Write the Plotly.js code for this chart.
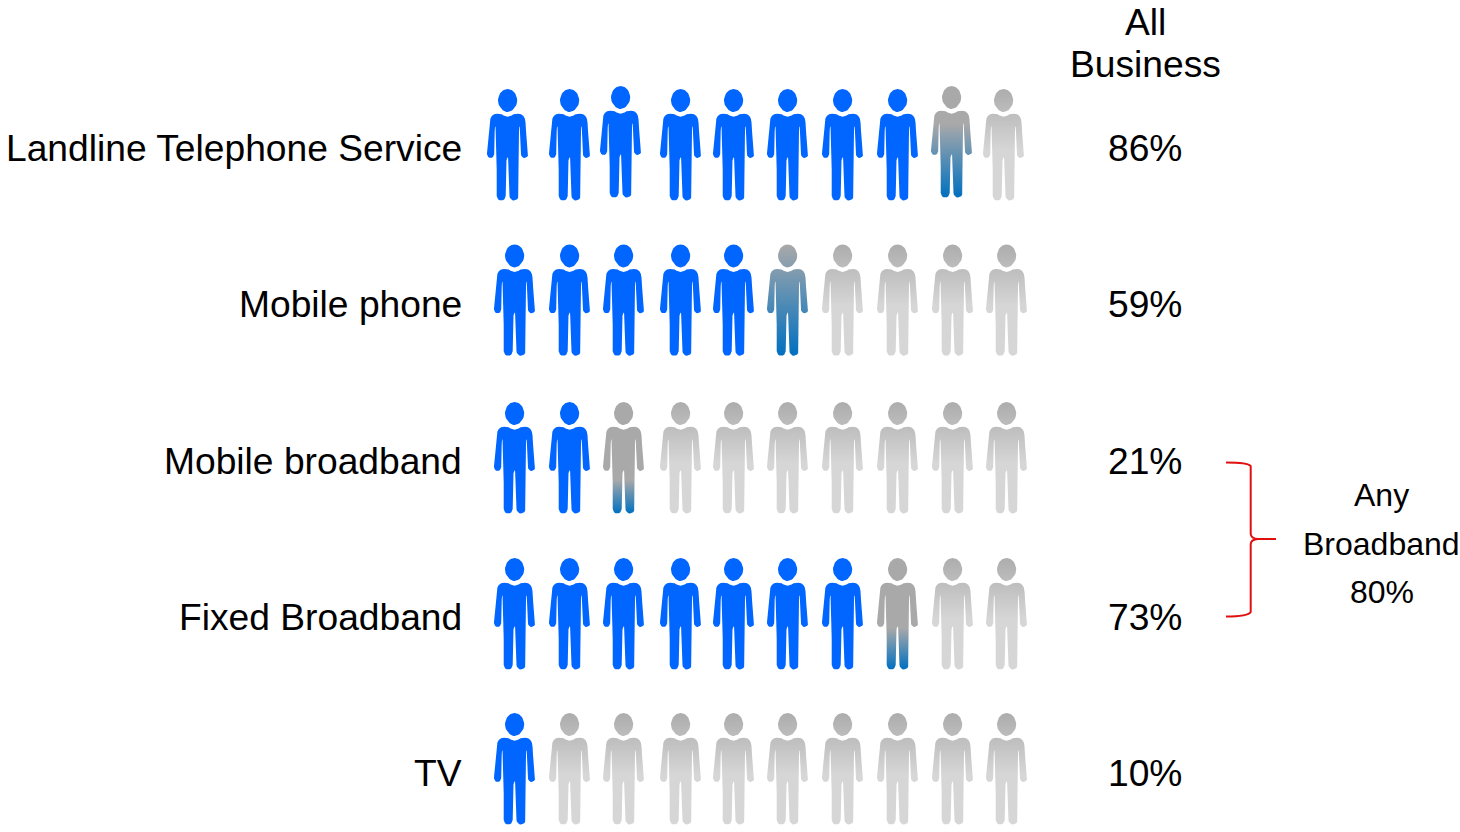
<!DOCTYPE html>
<html>
<head>
<meta charset="utf-8">
<script src="https://cdn.plot.ly/plotly-3.0.1.min.js"></script>
<style>html,body{margin:0;padding:0;background:#fff}#chart{width:1460px;height:832px}</style>
</head>
<body>
<div id="chart"></div>
<script>
// Share of businesses using each service
const services = ['Landline Telephone Service', 'Mobile phone', 'Mobile broadband', 'Fixed Broadband', 'TV'];
const shares = [86, 59, 21, 73, 10];
const headerLines = ['All', 'Business'];
const bracketLines = ['Any', 'Broadband', '80%'];

// Layout of the pictogram, in page pixels
const rowTextY = [148, 304, 461, 617, 773];
const rowTops = [89.3, 244.6, 402.3, 558.3, 713.3];
const figureColumns = [514.6, 569.6, 623.6, 680.6, 733.6, 787.6, 842.6, 897.6, 952.6, 1006.6];
const firstRowColumns = [507.6, 569.6, 620.6, 680.6, 733.6, 787.6, 842.6, 897.6, 951.6, 1003.6];
const firstRowLift = [0, 0, 3, 0, 0, 0, 0, 0, 3, 0];
const figureHeight = 111;

const BLUE = '#0066ff';
const PARTIAL_GREY = '#a9a9a9';
const PARTIAL_BLUE = '#0070c0';
const EMPTY_TOP = '#adadad';
const EMPTY_BOTTOM = '#d6d6d6';
// Where the grey of each row's remainder figure starts turning blue
const fadeStarts = [0.34, 0, 0.7, 0.63, 0];

// One half of the body outline, as offsets from the neck centre line
function arc(cx, cy, r, from, to, n) {
  const pts = [];
  for (let i = 0; i <= n; i++) {
    const a = (from + (to - from) * i / n) * Math.PI / 180;
    pts.push([cx + r * Math.cos(a), cy + r * Math.sin(a)]);
  }
  return pts;
}
const halfBody = [
  [0, 27.5], [2, 27.2], [4, 26.2], [6, 25], [8, 24.4], [10.5, 24.4], [13.5, 25], [15.8, 26.6], [17.2, 29.2], [17.9, 33], [18.6, 44], [20.6, 64],
  ...arc(17, 65, 3.6, 0, 180, 8),
  [12.9, 42], [12.6, 38], [12.1, 37], [11.6, 38], [11.4, 42], [10.9, 80],
  ...arc(6.4, 106.7, 4.5, 0, 180, 8),
  [1.1, 71], [0.5, 68.8], [0, 68]
];
const bodyOutline = halfBody.concat(halfBody.slice(0, -1).reverse().map(p => [-p[0], p[1]]));
const headOutline = [];
for (let i = 0; i <= 40; i++) {
  const t = i / 40 * 2 * Math.PI;
  const c = Math.cos(t);
  const taper = c < 0 ? 1 - 0.16 * c * c : 1;
  headOutline.push([9.6 * Math.sin(t) * taper, 11.3 - 11.5 * c]);
}

function figureTrace(cx, top, fill) {
  const x = [], y = [];
  [bodyOutline, headOutline].forEach((part, k) => {
    if (k) { x.push(null); y.push(null); }
    part.forEach(p => { x.push(cx + p[0]); y.push(top + p[1]); });
  });
  const trace = {
    type: 'scatter', mode: 'lines', x, y, fill: 'toself', hoverinfo: 'skip',
    showlegend: false, line: {width: 0}
  };
  if (typeof fill === 'string') {
    trace.fillcolor = fill;
  } else {
    trace.fillgradient = {type: 'vertical', colorscale: fill, start: top, stop: top + figureHeight};
  }
  return trace;
}

const traces = [];
shares.forEach((share, r) => {
  const cols = r === 0 ? firstRowColumns : figureColumns;
  cols.forEach((cx, i) => {
    const part = share / 10 - i;
    const top = rowTops[r] - (r === 0 ? firstRowLift[i] : 0);
    let fill;
    if (part >= 1) fill = BLUE;
    else if (part > 0) fill = [[0, PARTIAL_GREY], [fadeStarts[r], PARTIAL_GREY], [1, PARTIAL_BLUE]];
    else fill = [[0, EMPTY_TOP], [0.55, EMPTY_BOTTOM], [1, EMPTY_BOTTOM]];
    traces.push(figureTrace(cx, top, fill));
  });
});

const annotations = [];
function label(x, y, text, size, xanchor) {
  annotations.push({
    xref: 'x', yref: 'y', x, y, text, showarrow: false, xanchor, yanchor: 'middle',
    font: {family: 'Liberation Sans, Arial, sans-serif', size, color: '#000'}
  });
}
services.forEach((s, r) => {
  label(464, rowTextY[r], s, 37.2, 'right');
  label(1145, rowTextY[r], shares[r] + '%', 37.2, 'center');
});
headerLines.forEach((t, i) => label(1145.5, 21.5 + i * 42.5, t, 37.2, 'center'));
bracketLines.forEach((t, i) => label(1381.5, 495 + i * 48.5, t, 32, 'center'));

const bracket = 'M1226 462.5 Q1248 462.5 1250.7 466 L1250.7 534 Q1251 538.5 1258 539 L1276 539 ' +
  'M1258 539 Q1251 539.5 1250.7 544 L1250.7 612 Q1248 616.5 1226 616.5';

Plotly.newPlot('chart', traces, {
  width: 1460, height: 832,
  margin: {l: 0, r: 0, t: 0, b: 0},
  paper_bgcolor: '#fff', plot_bgcolor: '#fff',
  xaxis: {range: [0, 1460], visible: false, fixedrange: true},
  yaxis: {range: [832, 0], visible: false, fixedrange: true},
  annotations,
  shapes: [{type: 'path', xref: 'x', yref: 'y', path: bracket, line: {color: '#e01010', width: 2}}]
}, {displayModeBar: false, staticPlot: true});
</script>
</body>
</html>
